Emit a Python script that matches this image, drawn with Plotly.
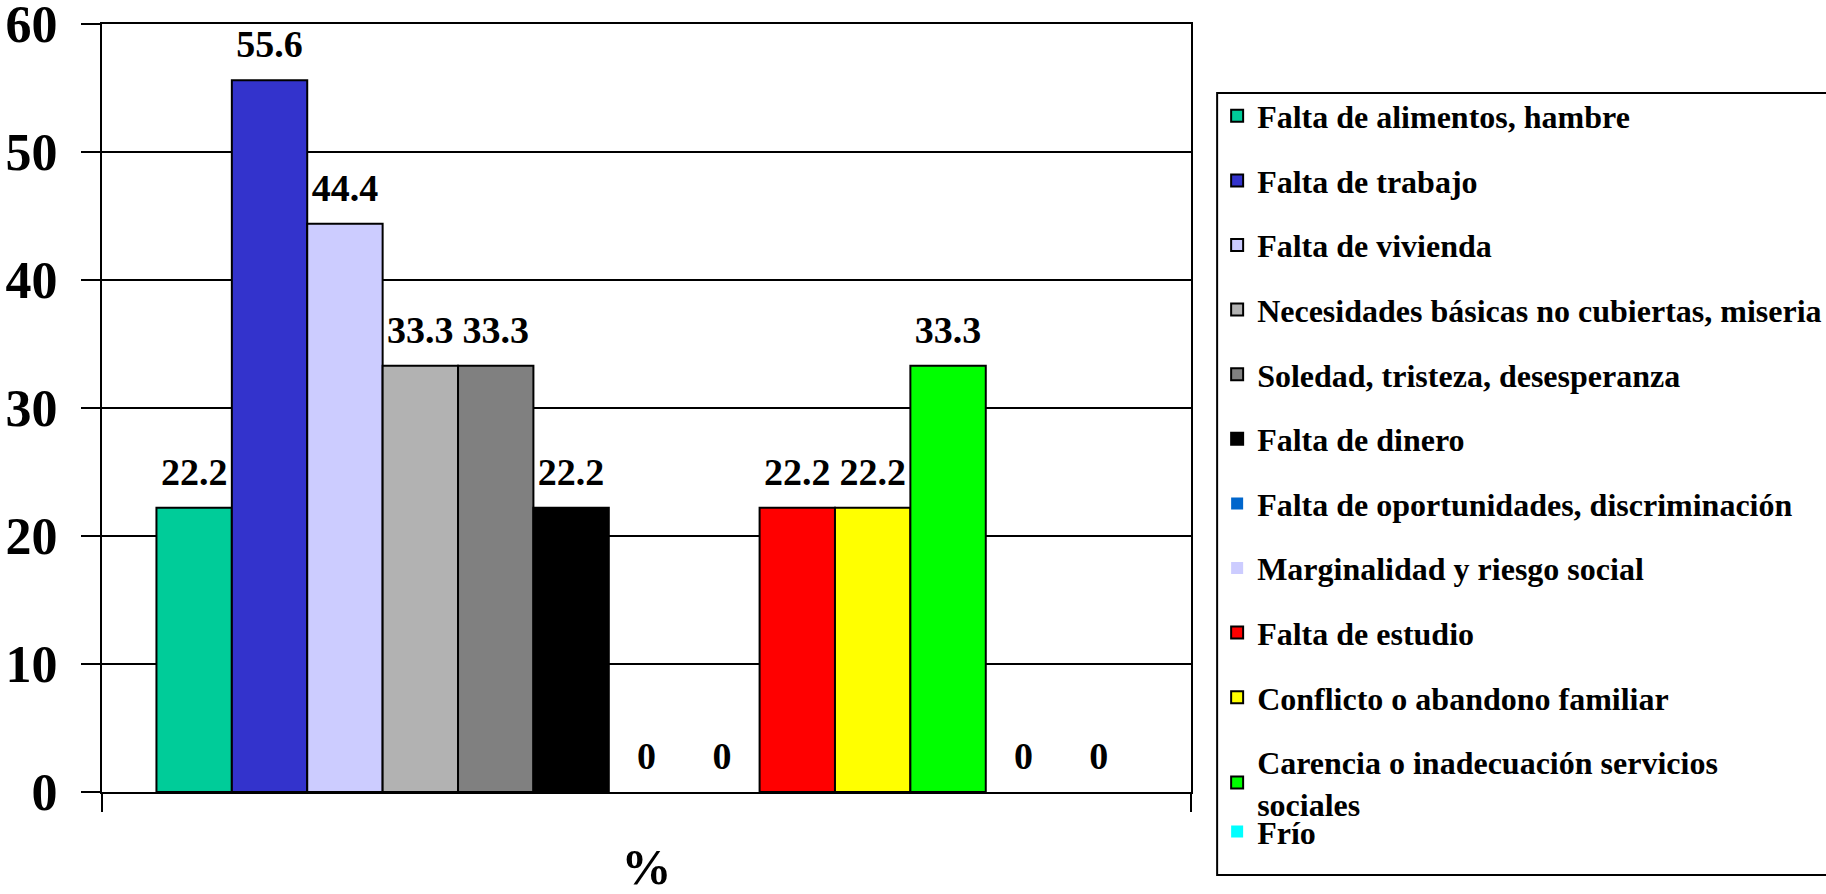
import plotly.graph_objects as go

category = ["%"]
names = [
    "Falta de alimentos, hambre",
    "Falta de trabajo",
    "Falta de vivienda",
    "Necesidades básicas no cubiertas, miseria",
    "Soledad, tristeza, desesperanza",
    "Falta de dinero",
    "Falta de oportunidades, discriminación",
    "Marginalidad y riesgo social",
    "Falta de estudio",
    "Conflicto o abandono familiar",
    "Carencia o inadecuación servicios<br>sociales",
    "Frío",
    "Otros",
]
values = [22.2, 55.6, 44.4, 33.3, 33.3, 22.2, 0, 0, 22.2, 22.2, 33.3, 0, 0]
colors = ["#00CC99", "#3333CC", "#CCCCFF", "#B2B2B2", "#808080", "#000000",
          "#0066CC", "#CCCCFF", "#FF0000", "#FFFF00", "#00FF00", "#00FFFF", "#FF00FF"]
show_legend = [True] * 12 + [False]
legend_ids = ["legend"] * 11 + ["legend2", "legend"]

FONT = "Liberation Serif"

fig = go.Figure()
for i, (n, v, c, s, lg) in enumerate(zip(names, values, colors, show_legend, legend_ids)):
    fig.add_trace(go.Bar(
        x=category, y=[v], name=n, showlegend=s, legendgroup=f"g{i}", legend=lg,
        offsetgroup=str(i),
        marker=dict(color=c, line=dict(color="black", width=2 if v > 0 else 0)),
        hoverinfo="skip",
    ))
for i, v in enumerate(values):
    fig.add_trace(go.Scatter(
        x=category, y=[v], mode="markers+text", text=[f"{v:g}"],
        textposition="top center", offsetgroup=str(i), showlegend=False,
        marker=dict(size=20, opacity=0),
        textfont=dict(family=FONT, size=38, color="black", weight="bold"),
        cliponaxis=False, hoverinfo="skip",
    ))

legend_font = dict(family=FONT, size=32, color="black", weight="bold")
fig.update_layout(
    width=1826, height=894,
    margin=dict(l=102, r=635, t=24, b=102, autoexpand=False),
    paper_bgcolor="white", plot_bgcolor="white",
    barmode="group", bargap=0.1, bargroupgap=0,
    scattermode="group", scattergap=0.1,
    font=dict(family=FONT, color="black", weight="bold"),
    legend=dict(
        x=1.024, y=0.916, xanchor="left", yanchor="top",
        borderwidth=0, bgcolor="rgba(0,0,0,0)",
        font=legend_font, tracegroupgap=20, traceorder="grouped",
    ),
    legend2=dict(
        x=1.024, y=-0.016, xanchor="left", yanchor="top",
        borderwidth=0, bgcolor="rgba(0,0,0,0)",
        font=legend_font,
    ),
    xaxis=dict(
        automargin=False,
        showline=True, linecolor="black", linewidth=2, mirror=True,
        ticks="outside", tickson="boundaries", ticklen=18, tickwidth=2, tickcolor="black",
        tickfont=dict(family=FONT, size=50, color="black", weight="bold"),
        ticklabelstandoff=30,
    ),
    yaxis=dict(
        automargin=False, range=[0, 60], dtick=10,
        showline=True, linecolor="black", linewidth=2, mirror=True,
        showgrid=True, gridcolor="black", gridwidth=2,
        ticks="outside", ticklen=19, tickwidth=2, tickcolor="black",
        tickfont=dict(family=FONT, size=52, color="black", weight="bold"),
        ticklabelstandoff=13, zeroline=False, ticklabeloverflow="allow",
    ),
    shapes=[dict(
        type="rect", xref="paper", yref="paper",
        x0=1.024, x1=1.62, y0=-0.108, y1=0.910,
        line=dict(color="black", width=2), fillcolor="rgba(0,0,0,0)", layer="above",
    )],
)

fig.write_html("out.html", config={"displayModeBar": False},
               post_script="document.body.style.margin='0';")
